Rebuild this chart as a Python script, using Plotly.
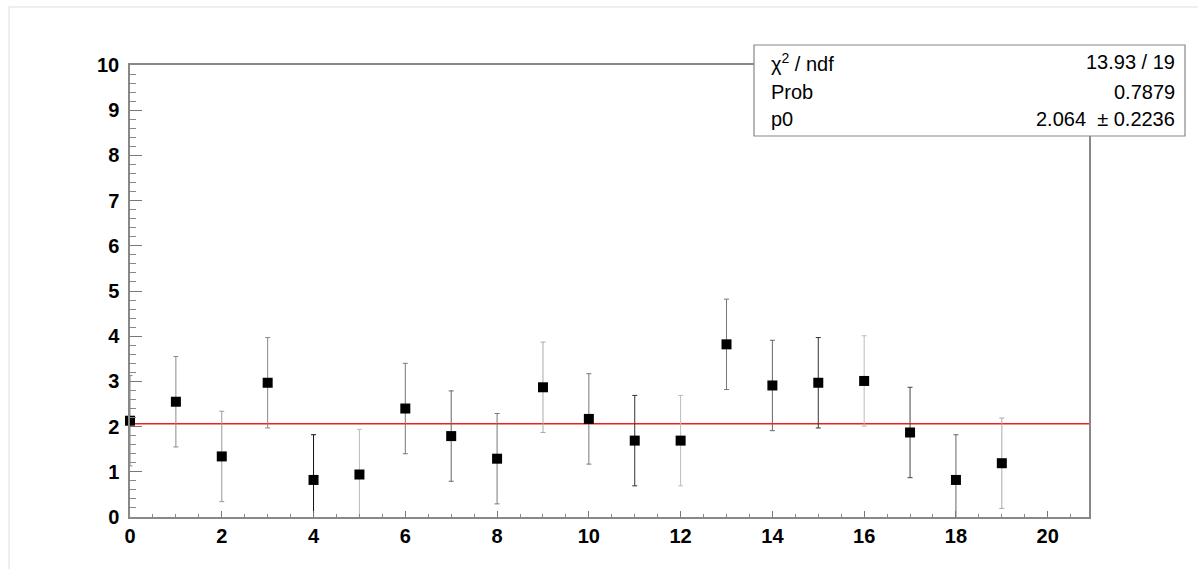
import plotly.graph_objects as go

# Measurements per bin
x_vals = list(range(20))
y_vals = [2.13, 2.55, 1.34, 2.97, 0.82, 0.94, 2.40, 1.79, 1.29, 2.87,
          2.17, 1.69, 1.69, 3.82, 2.91, 2.97, 3.01, 1.87, 0.82, 1.19]
y_errs = [1.0] * 20

# Constant fit result
fit_p0 = 2.064
fit_p0_err = 0.2236
chi2 = 13.93
ndf = 19
prob = 0.7879

x_ticks = [0, 2, 4, 6, 8, 10, 12, 14, 16, 18, 20]
y_ticks = [0, 1, 2, 3, 4, 5, 6, 7, 8, 9, 10]

# error-bar shading per point (antialiased look)
err_colors = ["#888888", "#8a8a8a", "#9a9a9a", "#888888", "#111111",
              "#bbbbbb", "#777777", "#666666", "#777777", "#aaaaaa",
              "#777777", "#333333", "#bbbbbb", "#777777", "#666666",
              "#333333", "#bbbbbb", "#444444", "#666666", "#aaaaaa"]

W, H = 1198, 569
L, R, T, B = 130, 1089, 65, 517


def px(xp):
    return (xp - L) / (R - L)


def py(yp):
    return (B - yp) / (B - T)


fig = go.Figure()

# fitted constant
fig.add_trace(go.Scatter(
    x=[0, 20.9], y=[fit_p0, fit_p0], mode="lines",
    line=dict(color="#e8231f", width=1.5), showlegend=False, hoverinfo="skip"))

for xi, yi, ei, ci in zip(x_vals, y_vals, y_errs, err_colors):
    fig.add_trace(go.Scatter(
        x=[xi], y=[yi], mode="markers",
        marker=dict(symbol="square", size=10, color="black"),
        error_y=dict(type="data", array=[ei], color=ci, thickness=1, width=2.5),
        cliponaxis=False, showlegend=False))

tick_font = dict(family="Liberation Sans, Arial, sans-serif", size=20,
                 color="black", weight="bold")

fig.update_xaxes(
    range=[0, 20.9], tickvals=x_ticks, ticktext=[str(v) for v in x_ticks],
    ticks="inside", ticklen=6, tickcolor="#777777", tickwidth=1,
    minor=dict(dtick=0.5, tick0=0, ticks="inside", ticklen=3, tickcolor="#888888"),
    showline=True, linecolor="#888888", linewidth=1.5, mirror=True,
    showgrid=False, zeroline=False, tickfont=tick_font, ticklabelstandoff=0)

fig.update_yaxes(
    range=[0, 10], tickvals=y_ticks, ticktext=[str(v) for v in y_ticks],
    ticks="inside", ticklen=12, tickcolor="#777777", tickwidth=1,
    minor=dict(dtick=0.2, tick0=0, ticks="inside", ticklen=6, tickcolor="#888888"),
    showline=True, linecolor="#888888", linewidth=1.5, mirror=True,
    showgrid=False, zeroline=False, tickfont=tick_font, ticklabelstandoff=5)

shapes = []
# canvas edge
shapes.append(dict(type="line", xref="paper", yref="paper",
                   x0=px(9), x1=px(W), y0=py(7), y1=py(7),
                   line=dict(color="#dddddd", width=1)))
shapes.append(dict(type="line", xref="paper", yref="paper",
                   x0=px(9), x1=px(9), y0=py(7), y1=py(H),
                   line=dict(color="#dddddd", width=1)))
# statistics box
shapes.append(dict(type="rect", xref="paper", yref="paper",
                   x0=px(754), x1=px(1185), y0=py(45), y1=py(136),
                   line=dict(color="#888888", width=1.2), fillcolor="white",
                   layer="above"))

stat_font = dict(family="Liberation Sans, Arial, sans-serif", size=20, color="black")
ann = []
rows = [
    ("χ<sup>2</sup> / ndf", f"{chi2:.2f} / {ndf}", 62),
    ("Prob", f"{prob:.4f}", 92),
    ("p0", f"{fit_p0:.3f}  ± {fit_p0_err:.4f}", 119),
]
for label, value, yc in rows:
    ann.append(dict(xref="paper", yref="paper", x=px(769), y=py(yc),
                    xanchor="left", yanchor="middle", text=label,
                    showarrow=False, font=stat_font))
    ann.append(dict(xref="paper", yref="paper", x=px(1177), y=py(yc),
                    xanchor="right", yanchor="middle", text=value,
                    showarrow=False, font=stat_font))

fig.update_layout(
    width=W, height=H,
    margin=dict(l=L, r=W - R, t=T, b=H - B),
    paper_bgcolor="white", plot_bgcolor="white",
    shapes=shapes, annotations=ann, showlegend=False)

fig.write_html("out.html")
